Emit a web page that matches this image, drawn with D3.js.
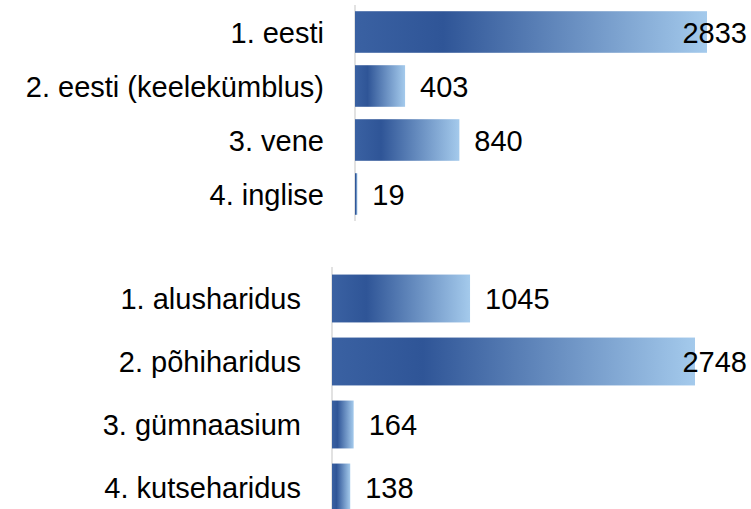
<!DOCTYPE html>
<html>
<head>
<meta charset="utf-8">
<script src="https://cdn.jsdelivr.net/npm/d3@7"></script>
<style>
  body { margin: 0; background: #fff; }
  text { font-family: "Liberation Sans", Arial, sans-serif; font-size: 29px; fill: #000; }
</style>
</head>
<body>
<svg id="chart"></svg>
<script>
const width = 751, height = 509;

// top chart: language of study
const langCategories = ["1. eesti", "2. eesti (keelekümblus)", "3. vene", "4. inglise"];
const langValues = [2833, 403, 840, 19];

// bottom chart: school level
const levelCategories = ["1. alusharidus", "2. põhiharidus", "3. gümnaasium", "4. kutseharidus"];
const levelValues = [1045, 2748, 164, 138];

const svg = d3.select("#chart")
  .attr("width", width)
  .attr("height", height);

// gradient used by every bar
const grad = svg.append("defs").append("linearGradient")
  .attr("id", "barGrad")
  .attr("x1", "0%").attr("x2", "100%")
  .attr("y1", "0%").attr("y2", "0%");
grad.append("stop").attr("offset", "0%").attr("stop-color", "#3a61a2");
grad.append("stop").attr("offset", "25%").attr("stop-color", "#2f5597");
grad.append("stop").attr("offset", "100%").attr("stop-color", "#a4caec");

function drawBars(cats, vals, cfg) {
  const g = svg.append("g");

  const y = d3.scaleBand()
    .domain(cats)
    .range([cfg.top, cfg.top + cfg.step * cats.length])
    .paddingInner(cfg.pad)
    .paddingOuter(cfg.pad / 2);

  const x = d3.scaleLinear()
    .domain([0, cfg.max])
    .range([cfg.left, cfg.left + cfg.len]);

  // axis line
  g.append("line")
    .attr("x1", cfg.left).attr("x2", cfg.left)
    .attr("y1", cfg.top).attr("y2", cfg.axisBottom)
    .attr("stroke", "#d9d9d9")
    .attr("stroke-width", 1.5);

  const data = cats.map((c, i) => ({ cat: c, v: vals[i] }));

  g.selectAll("rect.bar")
    .data(data)
    .join("rect")
    .attr("class", "bar")
    .attr("x", x(0))
    .attr("y", d => y(d.cat))
    .attr("width", d => Math.max(1.5, x(d.v) - x(0)))
    .attr("height", y.bandwidth())
    .attr("fill", "url(#barGrad)");

  // category labels
  g.selectAll("text.cat")
    .data(data)
    .join("text")
    .attr("class", "cat")
    .attr("x", cfg.left - 31)
    .attr("y", d => y(d.cat) + y.bandwidth() / 2)
    .attr("dy", "0.37em")
    .attr("text-anchor", "end")
    .text(d => d.cat);

  // value labels, pushed back inside when they run off the page
  g.selectAll("text.val")
    .data(data)
    .join("text")
    .attr("class", "val")
    .attr("y", d => y(d.cat) + y.bandwidth() / 2)
    .attr("dy", "0.37em")
    .text(d => d.v)
    .attr("x", function(d) {
      const w = this.getComputedTextLength();
      return Math.min(x(d.v) + 15, width - 4 - w);
    });
}

drawBars(langCategories, langValues, {
  top: 5, step: 54, pad: 0.23, left: 355, len: 352, max: 2833, axisBottom: 221
});

drawBars(levelCategories, levelValues, {
  top: 267, step: 63, pad: 0.24, left: 332, len: 363, max: 2748, axisBottom: 509
});
</script>
</body>
</html>
